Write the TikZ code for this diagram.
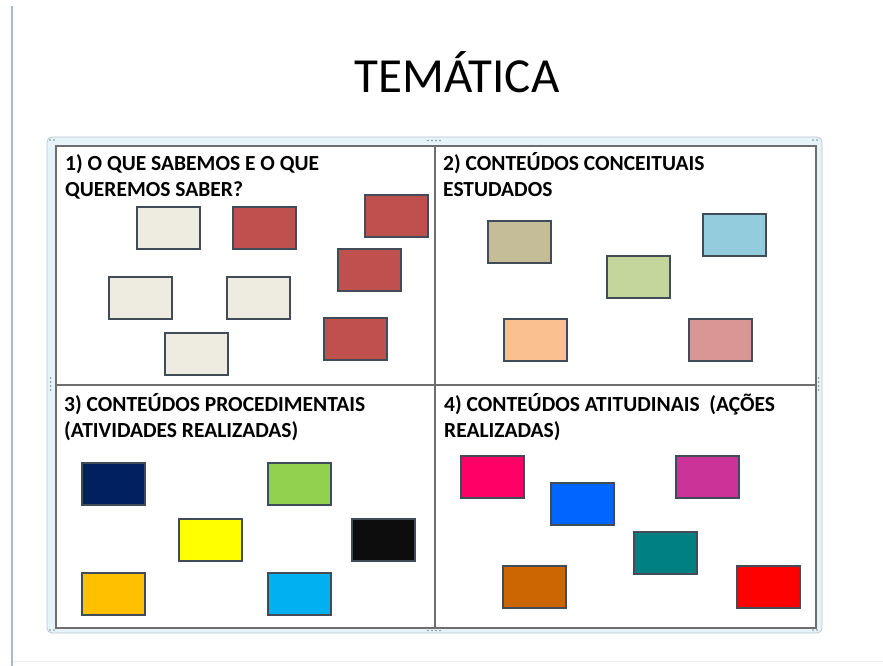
\documentclass[tikz,border=0pt]{standalone}
\usepackage{fontspec}
\setmainfont{Carlito}
\usetikzlibrary{positioning}
\definecolor{cardline}{HTML}{424C58}
\definecolor{gridline}{HTML}{6E6E6E}
\definecolor{edgeblue}{HTML}{A9B9CE}
\definecolor{framefill}{HTML}{E4F4F8}
\definecolor{frameline}{HTML}{B7C7CD}
\definecolor{handle}{HTML}{7F8A90}
\definecolor{cream}{HTML}{EEECE1}
\definecolor{brick}{HTML}{C0504D}
\definecolor{tan}{HTML}{C4BD97}
\definecolor{aqua}{HTML}{93CDDD}
\definecolor{sage}{HTML}{C3D69B}
\definecolor{peach}{HTML}{FAC090}
\definecolor{rose}{HTML}{D99694}
\definecolor{navy}{HTML}{002060}
\definecolor{lime}{HTML}{92D050}
\definecolor{lemon}{HTML}{FFFF00}
\definecolor{ink}{HTML}{0D0D0D}
\definecolor{amber}{HTML}{FFC000}
\definecolor{sky}{HTML}{00B0F0}
\definecolor{hotpink}{HTML}{FF0066}
\definecolor{royal}{HTML}{0066FF}
\definecolor{plum}{HTML}{CC3399}
\definecolor{tealc}{HTML}{008080}
\definecolor{rust}{HTML}{CC6600}
\definecolor{scarlet}{HTML}{FF0000}
\tikzset{
  card/.style={draw=cardline, line width=2pt},
  cell/.style={draw=gridline, line width=1.3pt},
  headline/.style={anchor=base west, inner sep=0pt, align=left,
    font=\bfseries\fontsize{21.5}{26}\selectfont},
  titletext/.style={anchor=base, inner sep=0pt,
    font=\fontsize{49}{58}\selectfont}
}

\begin{document}
\begin{tikzpicture}[x=1pt,y=-1pt]
  \useasboundingbox (0,0) rectangle (883,666);
  \fill[white] (0,0) rectangle (883,666);
  \draw[edgeblue, line width=2.5pt] (12,6) -- (12,666);
  \draw[black!7, line width=1pt] (13,661) -- (883,661);
  \node[titletext] (titulo) at (457,93) {TEMÁTICA};
  \draw[framefill, draw=frameline, line width=0.8pt, rounded corners=5pt,
    fill=framefill] (47,137) rectangle (822,633);
  \coordinate (NW) at (56,146);
  \coordinate (NE) at (816,146);
  \coordinate (SW) at (56,628);
  \coordinate (M) at (435,385);
  \draw[cell, fill=white] (NW) rectangle (NE|-SW);
  \draw[cell] (M|-NW) -- (M|-SW);
  \draw[cell] (M-|NW) -- (M-|NE);
  \foreach \t in {428,432,436,440}{
    \fill[handle] (\t,140.5) circle[radius=0.9];
    \fill[handle] (\t,630.5) circle[radius=0.9];
  }
  \foreach \t in {378,382,386,390}{
    \fill[handle] (818.5,\t) circle[radius=0.9];
    \fill[handle] (50.5,\t) circle[radius=0.9];
  }
  \foreach \u/\v in {50/140,54/140,813/140,817/140,50/630,54/630,813/630,817/630}
    \fill[handle] (\u,\v) circle[radius=0.9];
  \node[headline] (q1) at (65,196) {1) O QUE SABEMOS E O QUE\\QUEREMOS SABER?};
  \node[headline] (q2) at (443,196) {2) CONTEÚDOS CONCEITUAIS\\ESTUDADOS};
  \node[headline] (q3) at (64,437) {3) CONTEÚDOS PROCEDIMENTAIS\\(ATIVIDADES REALIZADAS)};
  \node[headline] (q4) at (444,437) {4) CONTEÚDOS ATITUDINAIS\ \ (AÇÕES\\REALIZADAS)};
  \foreach \x/\y/\c in {137/207/cream, 233/207/brick, 365/195/brick,
    338/249/brick, 109/277/cream, 227/277/cream, 324/318/brick,
    165/333/cream,
    488/221/tan, 703/214/aqua, 607/256/sage, 504/319/peach, 689/319/rose,
    82/463/navy, 268/463/lime, 179/519/lemon, 352/519/ink,
    82/573/amber, 268/573/sky,
    461/456/hotpink, 551/483/royal, 676/456/plum, 634/532/tealc,
    503/566/rust, 737/566/scarlet}
    \filldraw[card, fill=\c] (\x,\y) rectangle +(63,42);
\end{tikzpicture}
\end{document}
